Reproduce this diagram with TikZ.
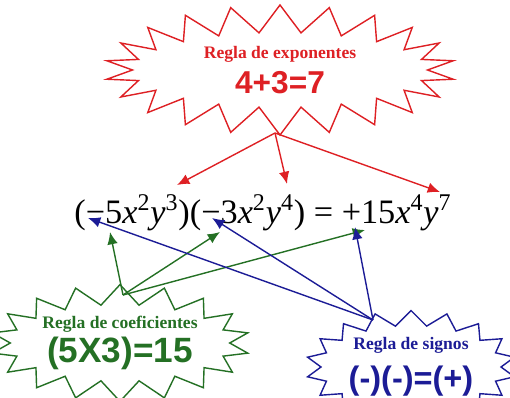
\documentclass[tikz,border=0pt]{standalone}
\usepackage{fontspec}
\setmainfont{Liberation Serif}
\newfontfamily\arial{Liberation Sans}
\usetikzlibrary{shapes.symbols}
\usetikzlibrary{arrows.meta}

\definecolor{rojo}{RGB}{222,32,36}
\definecolor{verde}{RGB}{36,112,36}
\definecolor{azul}{RGB}{28,28,150}

\tikzset{
  burst/.style={starburst, draw=#1, text=#1, thick, fill=white, inner sep=0pt, align=center, font=\bfseries, random starburst=0},
  flecha/.style={-{Latex[length=7pt,width=6pt]}, thick},
}

\newcommand{\pw}[2]{\textit{#1}\textsuperscript{#2}}

\begin{document}
\begin{tikzpicture}
        \useasboundingbox (0,0) rectangle (10.2,7.94);

        % Equation
        \node (ecuacion) at (5.26,3.68) {\fontsize{19.5}{24}\selectfont (−5\pw{x}{2}\pw{y}{3})(−3\pw{x}{2}\pw{y}{4}) = +15\pw{x}{4}\pw{y}{7}};

        % The three rules
        \node[burst=rojo, starburst points=22, starburst point height=0.55cm, minimum width=7cm, minimum height=2.6cm] (exps) at (5.6,6.54)
          {{\fontsize{10}{12}\selectfont Regla de exponentes}\\[4pt] {\arial\fontsize{18}{20}\selectfont 4+3=7}};
        \node[burst=verde, starburst points=18, starburst point height=0.4cm, minimum width=4.7cm, minimum height=2.14cm] (coefs) at (2.4,1.08)
          {{\fontsize{10}{12}\selectfont Regla de coeficientes}\\[2pt] {\arial\fontsize{20}{22}\selectfont (5X3)=15}};
        \node[burst=azul, starburst points=18, starburst point height=0.3cm, minimum width=4.2cm, minimum height=1.8cm] (signos) at (8.22,0.6)
          {{\fontsize{10}{12}\selectfont Regla de signos}\\[6pt] {\arial\fontsize{18.5}{20}\selectfont (-)(-)=(+)}};

        % Arrow ends
        \coordinate (r0) at (5.5,5.28);
        \coordinate (r1) at (3.54,4.24);
        \coordinate (r2) at (5.74,4.26);
        \coordinate (r3) at (8.8,4.1);
        \coordinate (g0) at (2.46,2.04);
        \coordinate (g1) at (2.2,3.3);
        \coordinate (g2) at (4.4,3.3);
        \coordinate (g3) at (7.3,3.34);
        \coordinate (b0) at (7.46,1.54);
        \coordinate (b1) at (1.76,3.58);
        \coordinate (b2) at (4.24,3.58);
        \coordinate (b3) at (7.1,3.4);

        % Arrows
        \foreach \t in {r1,r2,r3} \draw[flecha, rojo] (r0) -- (\t);
        \foreach \t in {g1,g2,g3} \draw[flecha, verde] (g0) -- (\t);
        \foreach \t in {b1,b2,b3} \draw[flecha, azul] (b0) -- (\t);
\end{tikzpicture}
\end{document}
